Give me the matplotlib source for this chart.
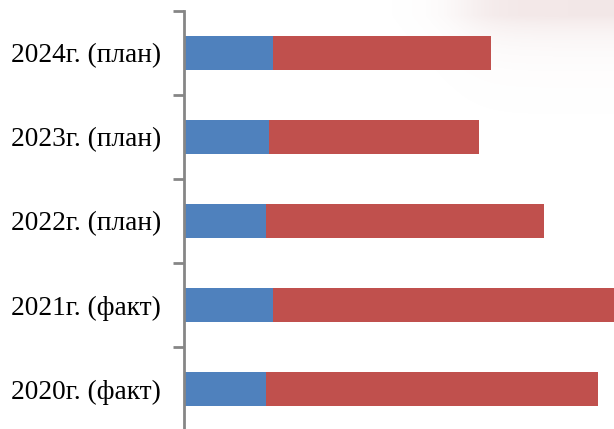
import numpy as np
import matplotlib
matplotlib.use("Agg")
import matplotlib.pyplot as plt

categories = ["2020г. (факт)", "2021г. (факт)", "2022г. (план)", "2023г. (план)", "2024г. (план)"]
series_blue = [8.2, 8.9, 8.2, 8.5, 8.9]
series_red = [33.2, 35.0, 27.8, 21.0, 21.8]

BLUE = "#4F81BD"
RED = "#C0504D"
AXIS = "#868686"

fig = plt.figure(figsize=(6.14, 4.29), dpi=100)

# faint decorative glow in the upper-right corner
bg = fig.add_axes([0, 0, 1, 1], zorder=-5)
bg.set_axis_off()
h, w = 429, 614
yy, xx = np.mgrid[0:h, 0:w]
gx = 1 / (1 + np.exp(-(xx - 465) / 18.0))
gy = np.exp(-np.clip(yy - 15, 0, None) / 24.0)
alpha = 0.24 * gx * gy
img = np.zeros((h, w, 4))
img[..., 0] = 0.80
img[..., 1] = 0.62
img[..., 2] = 0.62
img[..., 3] = alpha
bg.imshow(img, extent=[0, w, h, 0], aspect="auto", interpolation="bilinear")
bg.set_xlim(0, w)
bg.set_ylim(h, 0)

ax = fig.add_axes([184 / 614, (429 - 431) / 429, 1 - 184 / 614, (431 - 11) / 429])
ax.patch.set_alpha(0)
y = np.arange(len(categories))
ax.barh(y, series_blue, height=0.4, color=BLUE, edgecolor="none")
ax.barh(y, series_red, left=series_blue, height=0.4, color=RED, edgecolor="none")

ax.set_xlim(0, 43.0)
ax.set_ylim(-0.5, len(categories) - 0.5)
ax.set_yticks(y)
ax.set_yticklabels(categories, fontfamily="Liberation Serif", fontsize=19.7)
ax.set_yticks(np.arange(-0.5, len(categories), 1.0), minor=True)
ax.tick_params(axis="y", which="major", length=0, pad=16.5)
ax.tick_params(axis="y", which="minor", length=8, width=2, color=AXIS)
ax.set_xticks([])
for s in ["top", "right", "bottom"]:
    ax.spines[s].set_visible(False)
ax.spines["left"].set_color(AXIS)
ax.spines["left"].set_linewidth(2)

fig.savefig("out.png", dpi=100)
